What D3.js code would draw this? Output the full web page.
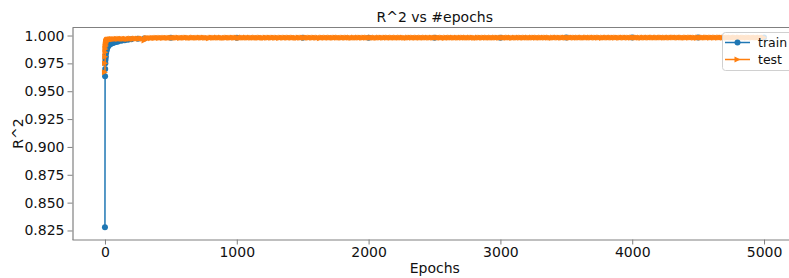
<!DOCTYPE html>
<html><head><meta charset="utf-8">
<script src="https://cdn.jsdelivr.net/npm/d3@7"></script>
<style>body{margin:0;background:#fff}svg{display:block;font-family:"DejaVu Sans",sans-serif}</style>
</head><body><svg id="c" width="789" height="278"></svg>
<script>
const title = "R^2 vs #epochs";
const xLabel = "Epochs";
const yLabel = "R^2";
const xTicks = [0, 1000, 2000, 3000, 4000, 5000];
const yTicks = [0.825, 0.850, 0.875, 0.900, 0.925, 0.950, 0.975, 1.000];
const seriesNames = ["train", "test"];

// train: early epochs sampled densely, later sparsely (hidden under test)
const trainEarlyEpochs = [0,1,2,3,4,5,6,8,10,12,15,20,25,30,40,50,60,70,80,90,100,125,150,175,200,250,300];
const trainEarly = [0.828,0.9635,0.970,0.975,0.978,0.980,0.9815,0.984,0.9855,0.9868,0.988,0.9895,0.9905,0.9912,0.9922,0.9928,0.9933,0.9937,0.9941,0.9944,0.9947,0.9953,0.9958,0.9962,0.9966,0.9970,0.9973];
const trainLateStart = 500, trainLateStep = 500;
const trainLate = [0.9979,0.9981,0.9981,0.9981,0.9981,0.9981,0.9982,0.9982,0.9982,0.9982];

// test: early epochs, then every 10 epochs from 130
const testEarlyEpochs = [0,1,2,3,4,5,6,7,8,9,10,12,14,16,18,20,25,30,35,40,45,50,55,60,70,80,90,100,110,120];
const testEarly = [0.9670,0.9750,0.9810,0.9850,0.9880,0.9900,0.9912,0.9925,0.9933,0.9940,0.9945,0.9950,0.9954,0.9957,0.9960,0.9962,0.9964,0.9963,0.9966,0.9965,0.9967,0.9966,0.9968,0.9967,0.9969,0.9968,0.9970,0.9969,0.9971,0.9970];
const testLateStart = 130, testLateStep = 10;
const testLate = [
0.9971,0.9969,0.9972,0.9970,0.9966,0.9972,0.9971,0.9973,0.9968,0.9972,0.9973,0.9971,0.9974,0.9970,0.9973,0.9974,0.9972,0.9955,0.9976,0.9977,
0.9977,0.9978,0.9976,0.9979,0.9978,0.9977,0.9979,0.9980,0.9978,0.9979,0.9980,0.9977,0.9980,0.9979,0.9981,0.9978,0.9980,0.9979,0.9981,0.9980,
0.9981,0.9979,0.9980,0.9982,0.9978,0.9981,0.9980,0.9981,0.9979,0.9982,0.9980,0.9981,0.9977,0.9981,0.9982,0.9980,0.9979,0.9981,0.9980,0.9982,
0.9980,0.9981,0.9982,0.9979,0.9981,0.9980,0.9976,0.9981,0.9982,0.9980,0.9981,0.9979,0.9982,0.9981,0.9980,0.9982,0.9981,0.9978,0.9981,0.9980,
0.9982,0.9980,0.9981,0.9979,0.9982,0.9981,0.9980,0.9982,0.9981,0.9977,0.9980,0.9982,0.9981,0.9980,0.9982,0.9979,0.9981,0.9982,0.9980,0.9981,
0.9981,0.9982,0.9979,0.9981,0.9980,0.9982,0.9981,0.9980,0.9978,0.9982,0.9981,0.9980,0.9982,0.9981,0.9979,0.9982,0.9980,0.9981,0.9982,0.9977,
0.9980,0.9982,0.9981,0.9980,0.9982,0.9981,0.9979,0.9982,0.9980,0.9981,0.9982,0.9980,0.9981,0.9978,0.9982,0.9981,0.9980,0.9982,0.9981,0.9980,
0.9982,0.9981,0.9980,0.9982,0.9979,0.9981,0.9982,0.9980,0.9981,0.9982,0.9976,0.9981,0.9982,0.9980,0.9981,0.9982,0.9980,0.9979,0.9982,0.9981,
0.9981,0.9980,0.9982,0.9981,0.9982,0.9980,0.9981,0.9979,0.9982,0.9981,0.9980,0.9982,0.9981,0.9982,0.9978,0.9981,0.9982,0.9980,0.9981,0.9982,
0.9980,0.9982,0.9981,0.9979,0.9982,0.9981,0.9982,0.9980,0.9981,0.9982,0.9980,0.9981,0.9982,0.9977,0.9981,0.9982,0.9980,0.9982,0.9981,0.9980,
0.9982,0.9981,0.9982,0.9980,0.9981,0.9982,0.9979,0.9981,0.9982,0.9981,0.9980,0.9982,0.9981,0.9982,0.9980,0.9981,0.9978,0.9982,0.9981,0.9982,
0.9981,0.9982,0.9980,0.9981,0.9982,0.9981,0.9980,0.9982,0.9981,0.9979,0.9982,0.9981,0.9982,0.9980,0.9981,0.9982,0.9981,0.9980,0.9982,0.9981,
0.9982,0.9980,0.9981,0.9982,0.9981,0.9977,0.9982,0.9981,0.9980,0.9982,0.9981,0.9982,0.9980,0.9981,0.9982,0.9979,0.9981,0.9982,0.9980,0.9982,
0.9981,0.9982,0.9981,0.9980,0.9982,0.9981,0.9982,0.9980,0.9981,0.9978,0.9982,0.9981,0.9982,0.9981,0.9980,0.9982,0.9981,0.9982,0.9979,0.9981,
0.9982,0.9981,0.9980,0.9982,0.9981,0.9982,0.9981,0.9979,0.9982,0.9981,0.9982,0.9980,0.9981,0.9982,0.9981,0.9982,0.9977,0.9981,0.9982,0.9980,
0.9981,0.9982,0.9981,0.9982,0.9980,0.9981,0.9982,0.9981,0.9982,0.9979,0.9981,0.9982,0.9980,0.9982,0.9981,0.9982,0.9981,0.9980,0.9982,0.9981,
0.9982,0.9981,0.9983,0.9980,0.9982,0.9981,0.9978,0.9982,0.9981,0.9982,0.9983,0.9981,0.9982,0.9980,0.9981,0.9982,0.9983,0.9981,0.9982,0.9979,
0.9981,0.9982,0.9983,0.9981,0.9982,0.9980,0.9982,0.9981,0.9983,0.9982,0.9981,0.9979,0.9982,0.9983,0.9981,0.9982,0.9980,0.9982,0.9983,0.9981,
0.9982,0.9981,0.9983,0.9982,0.9977,0.9982,0.9981,0.9983,0.9982,0.9981,0.9982,0.9983,0.9980,0.9982,0.9981,0.9983,0.9982,0.9981,0.9979,0.9982,
0.9983,0.9981,0.9982,0.9983,0.9981,0.9982,0.9980,0.9983,0.9982,0.9981,0.9983,0.9982,0.9981,0.9982,0.9978,0.9983,0.9982,0.9981,0.9983,0.9982,
0.9981,0.9982,0.9983,0.9982,0.9980,0.9982,0.9983,0.9981,0.9982,0.9983,0.9982,0.9981,0.9983,0.9979,0.9982,0.9983,0.9981,0.9982,0.9983,0.9982,
0.9982,0.9983,0.9981,0.9982,0.9983,0.9982,0.9981,0.9980,0.9983,0.9982,0.9981,0.9983,0.9982,0.9983,0.9981,0.9982,0.9978,0.9983,0.9982,0.9981,
0.9983,0.9982,0.9981,0.9983,0.9982,0.9983,0.9981,0.9982,0.9983,0.9980,0.9982,0.9983,0.9981,0.9982,0.9983,0.9982,0.9981,0.9983,0.9982,0.9979,
0.9982,0.9983,0.9982,0.9981,0.9983,0.9982,0.9983,0.9981,0.9982,0.9983,0.9980,0.9982,0.9983,0.9982,0.9981,0.9983,0.9982,0.9983,0.9981,0.9982,
0.9983,0.9982,0.9981,0.9983,0.9982,0.9980,0.9983,0.9982
];

const train = trainEarlyEpochs.map((e, i) => [e, trainEarly[i]])
  .concat(trainLate.map((v, i) => [trainLateStart + i * trainLateStep, v]));
const test = testEarlyEpochs.map((e, i) => [e, testEarly[i]])
  .concat(testLate.map((v, i) => [testLateStart + i * testLateStep, v]));

const colors = ["#1f77b4", "#ff7f0e"];
const svg = d3.select("#c");
const L = 72.5, R = 797, T = 27.5, B = 239.5;
const x = d3.scaleLinear().domain([-250, 5250]).range([L - 0.5, R]);
const y = d3.scaleLinear().domain([0.8169, 1.0072]).range([B, T]);
const spine = "#808080";

// axes
const xa = svg.append("g").attr("transform", `translate(0,${B})`)
  .call(d3.axisBottom(x).tickValues(xTicks).tickFormat(d3.format("d")).tickSize(5).tickPadding(3).tickSizeOuter(0));
const ya = svg.append("g").attr("transform", `translate(${L},0)`)
  .call(d3.axisLeft(y).tickValues(yTicks).tickFormat(d3.format(".3f")).tickSize(5).tickPadding(3).tickSizeOuter(0));
[xa, ya].forEach(a => {
  a.selectAll("path").attr("stroke", spine).attr("stroke-width", 1.2);
  a.selectAll("line").attr("stroke", spine).attr("stroke-width", 1);
  a.selectAll("text").attr("fill", "#111").style("font-size", "14px").style("font-family", "DejaVu Sans");
});
// top spine
svg.append("line").attr("x1", L).attr("x2", 789).attr("y1", T).attr("y2", T).attr("stroke", spine).attr("stroke-width", 1.2);

const line = d3.line().x(d => x(d[0])).y(d => y(d[1]));

svg.append("path").datum(train).attr("d", line).attr("fill", "none").attr("stroke", colors[0]).attr("stroke-width", 1.5);
svg.append("g").selectAll("circle").data(train).join("circle")
  .attr("cx", d => x(d[0])).attr("cy", d => y(d[1])).attr("r", 3).attr("fill", colors[0]);

const tri = "M3,0L-3,3L-3,-3Z";
svg.append("path").datum(test).attr("d", line).attr("fill", "none").attr("stroke", colors[1]).attr("stroke-width", 1.5);
svg.append("g").selectAll("path").data(test).join("path")
  .attr("d", tri).attr("transform", d => `translate(${x(d[0])},${y(d[1])})`).attr("fill", colors[1]);

// title and labels
svg.append("text").attr("x", (L + R) / 2).attr("y", 22).attr("text-anchor", "middle")
  .style("font-size", "14px").attr("fill", "#111").text(title);
svg.append("text").attr("x", (L + R) / 2).attr("y", 273).attr("text-anchor", "middle")
  .style("font-size", "14px").attr("fill", "#111").text(xLabel);
svg.append("text").attr("transform", `translate(23,${(T + B) / 2}) rotate(-90)`).attr("text-anchor", "middle")
  .style("font-size", "14px").attr("fill", "#111").text(yLabel);

// legend
const lg = svg.append("g");
lg.append("rect").attr("x", 722.5).attr("y", 32.5).attr("width", 72).attr("height", 38).attr("rx", 3)
  .attr("fill", "white").attr("fill-opacity", 0.8).attr("stroke", "#d0d0d0");
seriesNames.forEach((n, i) => {
  const yy = 42.5 + i * 17;
  lg.append("line").attr("x1", 725).attr("x2", 750).attr("y1", yy).attr("y2", yy).attr("stroke", colors[i]).attr("stroke-width", 1.5);
  if (i === 0) lg.append("circle").attr("cx", 737.5).attr("cy", yy).attr("r", 3).attr("fill", colors[i]);
  else lg.append("path").attr("d", tri).attr("transform", `translate(737.5,${yy})`).attr("fill", colors[i]);
  lg.append("text").attr("x", 758).attr("y", yy + 4.5).style("font-size", "12.5px").attr("fill", "#111").text(n);
});
</script></body></html>
